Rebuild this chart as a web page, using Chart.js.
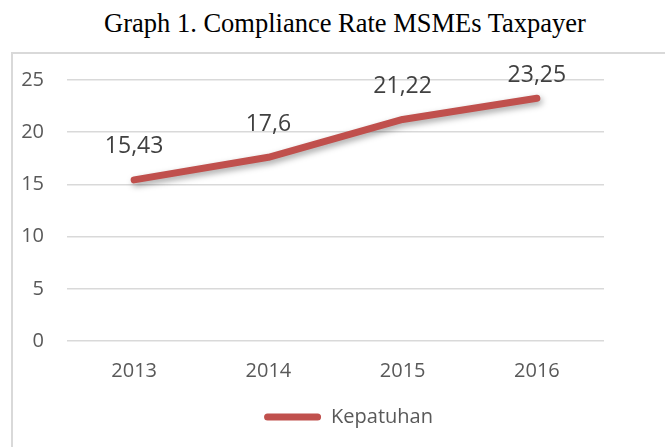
<!DOCTYPE html>
<html>
<head>
<meta charset="utf-8">
<script src="https://cdn.jsdelivr.net/npm/chart.js@4.4.1/dist/chart.umd.min.js"></script>
<style>
  html, body { margin: 0; padding: 0; background: #ffffff; }
  #wrap { position: relative; width: 665px; height: 447px; overflow: hidden; background: #fff; }
  #title { position: absolute; left: 0; top: 10px; width: 690px; text-align: center;
           font-family: 'Liberation Serif', 'Times New Roman', serif; font-size: 26.5px; line-height: 26px; color: #000; white-space: nowrap; }
  #frame { position: absolute; left: 11px; top: 52px; width: 700px; height: 500px;
           border-left: 2px solid #d9d9d9; border-top: 2px solid #d9d9d9; }
  #c { position: absolute; left: 0; top: 0; }
</style>
</head>
<body>
<div id="wrap">
  <div id="title">Graph 1. Compliance Rate MSMEs Taxpayer</div>
  <div id="frame"></div>
  <canvas id="c" width="665" height="447"></canvas>
</div>
<script>
const categories = ['2013', '2014', '2015', '2016'];
const kepatuhan = [15.43, 17.6, 21.22, 23.25];
const seriesName = 'Kepatuhan';
const yTicks = [0, 5, 10, 15, 20, 25];

const lineColor = '#C0504D';
const fontFamily = "'Open Sans', 'Noto Sans', sans-serif";

const shadowPlugin = {
  id: 'lineShadow',
  beforeDatasetDraw(chart) {
    const ctx = chart.ctx;
    ctx.save();
    ctx.shadowColor = 'rgba(0,0,0,0.35)';
    ctx.shadowBlur = 6;
    ctx.shadowOffsetX = 2;
    ctx.shadowOffsetY = 3;
  },
  afterDatasetDraw(chart) {
    chart.ctx.restore();
  }
};

const legendShift = {
  id: 'legendShift',
  afterLayout(chart) {
    const lg = chart.legend;
    if (lg) { lg.left += 16; lg.right += 16; }
  }
};

const dataLabelPlugin = {
  id: 'dataLabels',
  afterDatasetsDraw(chart) {
    const ctx = chart.ctx;
    const area = chart.chartArea;
    chart.data.datasets.forEach((ds, di) => {
      const meta = chart.getDatasetMeta(di);
      meta.data.forEach((pt, i) => {
        const txt = String(ds.data[i]).replace('.', ',');
        const y = Math.max(pt.y - 33, area.top - 5);
        ctx.save();
        ctx.font = '23px ' + fontFamily;
        ctx.fillStyle = '#404040';
        ctx.textAlign = 'center';
        ctx.textBaseline = 'middle';
        ctx.fillText(txt, pt.x, y);
        ctx.restore();
      });
    });
  }
};

new Chart(document.getElementById('c'), {
  type: 'line',
  data: {
    labels: categories,
    datasets: [{
      label: seriesName,
      data: kepatuhan,
      borderColor: lineColor,
      backgroundColor: lineColor,
      borderWidth: 7,
      borderCapStyle: 'round',
      borderJoinStyle: 'round',
      pointRadius: 0,
      pointHoverRadius: 0,
      tension: 0,
      fill: false
    }]
  },
  options: {
    responsive: false,
    animation: false,
    devicePixelRatio: 1,
    layout: { padding: { left: 0, right: 0, top: 80, bottom: 10 } },
    plugins: {
      title: { display: false },
      tooltip: { enabled: false },
      legend: {
        display: true,
        position: 'bottom',
        labels: {
          boxWidth: 57,
          boxHeight: 7,
          useBorderRadius: true,
          borderRadius: 3.5,
          padding: 10,
          color: '#595959',
          font: { family: fontFamily, size: 20 },
          generateLabels(chart) {
            return Chart.defaults.plugins.legend.labels.generateLabels(chart).map(l => {
              l.lineWidth = 0;
              l.strokeStyle = 'rgba(0,0,0,0)';
              l.fillStyle = lineColor;
              return l;
            });
          }
        }
      }
    },
    scales: {
      x: {
        offset: true,
        grid: { display: false, drawTicks: false },
        border: { display: false },
        ticks: { color: '#595959', font: { family: fontFamily, size: 20 }, padding: 18, maxRotation: 0 },
        afterFit(scale) { scale.height = 56; }
      },
      y: {
        min: 0,
        max: 25,
        afterBuildTicks(scale) { scale.ticks = yTicks.map(v => ({ value: v })); },
        grid: { color: '#d9d9d9', lineWidth: 1.5, drawTicks: false },
        border: { display: false },
        ticks: { color: '#595959', font: { family: fontFamily, size: 20 }, padding: 23 },
        afterFit(scale) { scale.width = 67; }
      },
      spacer: {
        type: 'linear',
        position: 'right',
        display: true,
        grid: { display: false, drawTicks: false },
        border: { display: false },
        ticks: { display: false },
        afterFit(scale) { scale.width = 61; }
      }
    }
  },
  plugins: [shadowPlugin, legendShift, dataLabelPlugin]
});
</script>
</body>
</html>
